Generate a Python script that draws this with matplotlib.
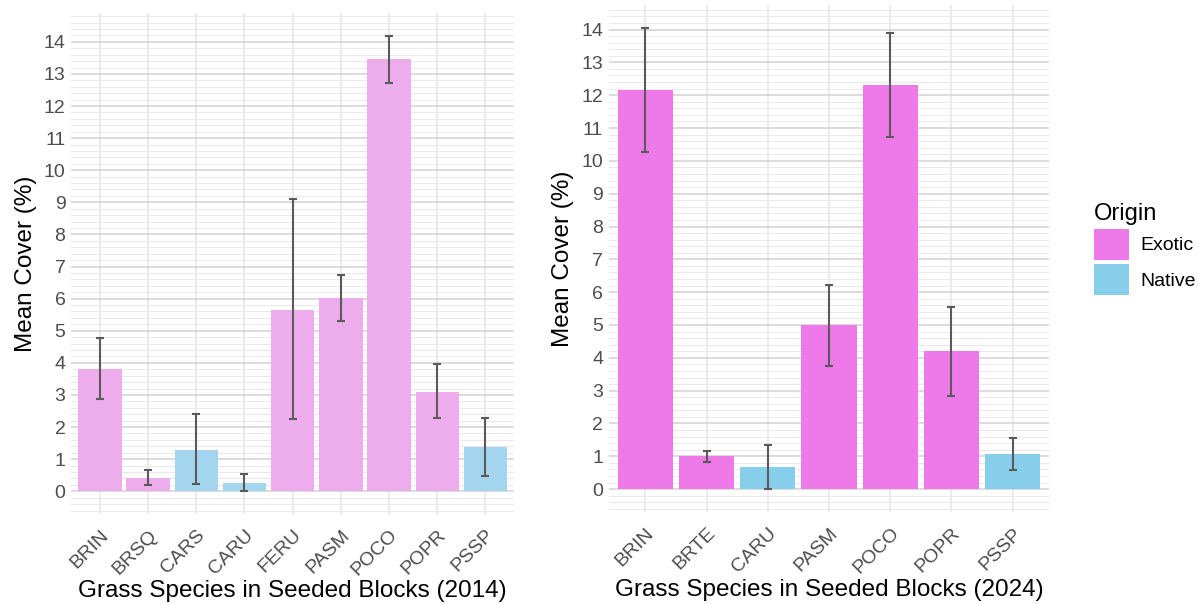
import numpy as np
import matplotlib
matplotlib.use("Agg")
import matplotlib.pyplot as plt
from matplotlib.patches import Patch
from matplotlib.ticker import MultipleLocator

plt.rcParams['font.family'] = ['Liberation Sans', 'DejaVu Sans']

# 2014 seeded blocks
sp14 = ["BRIN", "BRSQ", "CARS", "CARU", "FERU", "PASM", "POCO", "POPR", "PSSP"]
mean14 = [3.82, 0.42, 1.30, 0.27, 5.65, 6.02, 13.45, 3.10, 1.37]
lo14 = [2.88, 0.18, 0.22, 0.02, 2.24, 5.30, 12.72, 2.27, 0.48]
hi14 = [4.77, 0.65, 2.40, 0.55, 9.10, 6.75, 14.18, 3.95, 2.27]
orig14 = ["Exotic", "Exotic", "Native", "Native", "Exotic", "Exotic", "Exotic", "Exotic", "Native"]

# 2024 seeded blocks
sp24 = ["BRIN", "BRTE", "CARU", "PASM", "POCO", "POPR", "PSSP"]
mean24 = [12.17, 1.00, 0.67, 5.00, 12.30, 4.20, 1.07]
lo24 = [10.27, 0.83, 0.00, 3.75, 10.72, 2.85, 0.58]
hi24 = [14.05, 1.15, 1.35, 6.23, 13.88, 5.55, 1.55]
orig24 = ["Exotic", "Exotic", "Native", "Exotic", "Exotic", "Exotic", "Native"]

col_light = {"Exotic": "#EDADEC", "Native": "#A4D5EE"}
col_full = {"Exotic": "#EE7AE9", "Native": "#87CEEB"}

fig = plt.figure(figsize=(11.98, 6.04), dpi=100)
ax1 = fig.add_axes([0.0593, 0.149, 0.370, 0.829])
ax2 = fig.add_axes([0.508, 0.152, 0.368, 0.840])


def panel(ax, sp, mean, lo, hi, orig, cols, xlabel):
    x = np.arange(len(sp))
    mean = np.array(mean)
    lo = np.array(lo)
    hi = np.array(hi)
    ax.bar(x, mean, width=0.9, color=[cols[o] for o in orig], zorder=2)
    ax.errorbar(x, mean, yerr=[mean - lo, hi - mean], fmt='none',
                ecolor='#5A5A5A', elinewidth=1.5, capsize=3, capthick=1.5, zorder=3)
    top = hi.max()
    ax.set_ylim(-0.05 * top, top * 1.05)
    ax.set_xlim(-0.6, len(sp) - 0.4)
    ax.yaxis.set_major_locator(MultipleLocator(1))
    ax.yaxis.set_minor_locator(MultipleLocator(0.2))
    ax.set_xticks(x)
    ax.set_xticklabels(sp, rotation=45, ha='right', rotation_mode='anchor')
    ax.grid(axis='y', which='major', color='#D2D2D2', linewidth=1.1, zorder=0)
    ax.grid(axis='y', which='minor', color='#EAEAEA', linewidth=0.7, zorder=0)
    ax.grid(axis='x', which='major', color='#EBEBEB', linewidth=1.5, zorder=0)
    ax.set_axisbelow(True)
    for s in ax.spines.values():
        s.set_visible(False)
    ax.tick_params(which='both', length=0, labelsize=14, colors='#4D4D4D', pad=4)
    ax.tick_params(axis='x', pad=9)
    ax.set_xlabel(xlabel, fontsize=17.5, labelpad=1)
    ax.set_ylabel("Mean Cover (%)", fontsize=17.5, labelpad=5)


panel(ax1, sp14, mean14, lo14, hi14, orig14, col_light,
      "Grass Species in Seeded Blocks (2014)")
panel(ax2, sp24, mean24, lo24, hi24, orig24, col_full,
      "Grass Species in Seeded Blocks (2024)")

handles = [Patch(facecolor=col_full[k], edgecolor='none', label=k) for k in ["Exotic", "Native"]]
fig.legend(handles=handles, title="Origin", loc='upper left', bbox_to_anchor=(0.9, 0.69),
           frameon=False, fontsize=14, title_fontsize=17, handlelength=1.8, handleheight=2.1,
           labelspacing=0.2, handletextpad=0.6, borderpad=0.3, alignment='left')

fig.savefig("out.png", dpi=100)
